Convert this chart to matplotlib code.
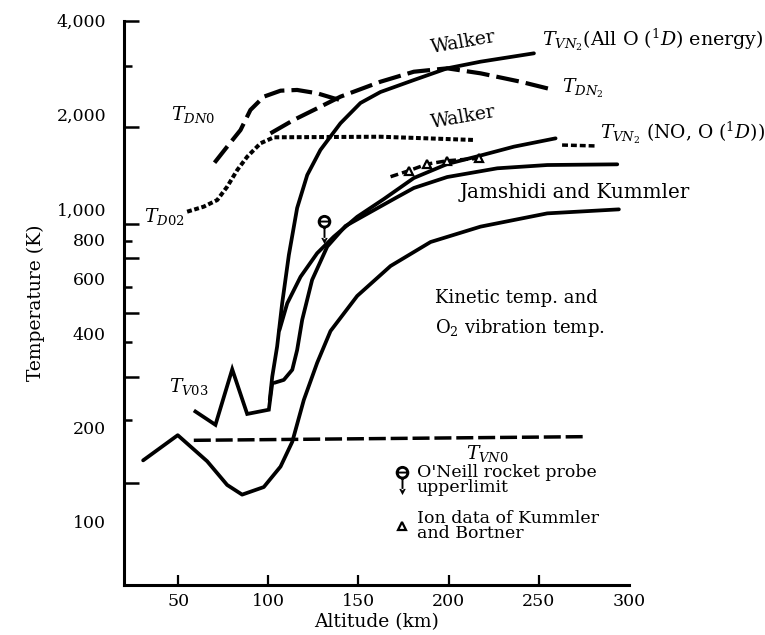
import matplotlib
matplotlib.use("Agg")
import matplotlib.pyplot as plt
from matplotlib.path import Path
from matplotlib.lines import Line2D
from matplotlib.ticker import FixedLocator, NullFormatter, NullLocator
import numpy as np

plt.rcParams['font.family'] = ['DejaVu Serif']
plt.rcParams['mathtext.fontset'] = 'dejavuserif'

# ---------------- data (altitude in km, temperature in K) ----------------
kinetic_alt = [30.6, 49.8, 66.1, 77.2, 85.5, 97.5, 106.8, 113.3, 119.7, 127.1,
               134.5, 149.3, 167.8, 190.0, 217.7, 254.7, 294.4]
kinetic_T = [157, 189, 156, 131, 122, 129, 150, 180, 245, 322,
             407, 527, 657, 784, 878, 968, 997]

tvn0_alt = [58.7, 277.0]
tvn0_T = [182, 187]

tv03_alt = [59.6, 70.7, 80.0, 88.3, 100.3, 102.2]
tv03_T = [225, 204, 307, 221, 228, 277]

tvn2_all_alt = [100.8, 102.2, 104.9, 107.7, 111.4, 116.0, 121.6, 128.9, 140.0,
                151.1, 162.2, 180.7, 199.2, 217.7, 247.3]
tvn2_all_T = [245, 291, 363, 499, 712, 1007, 1284, 1544, 1879,
              2182, 2366, 2584, 2817, 2958, 3146]

jamshidi_alt = [103.4, 108.6, 113.3, 116.0, 118.8, 124.3, 132.7, 142.8, 156.7,
                170.6, 180.7, 199.2, 227.0, 254.7, 293.5]
jamshidi_T = [278, 284, 306, 354, 442, 593, 758, 882, 978,
              1084, 1167, 1265, 1349, 1382, 1389]

tvn2_no_alt = [106.2, 110.5, 117.9, 127.1, 136.3, 149.3, 164.1, 180.7, 199.2,
               216.7, 236.2, 259.3]
tvn2_no_T = [410, 499, 607, 722, 815, 944, 1076, 1256, 1392,
             1477, 1582, 1682]
tvn2_no_tail_alt = [262.9, 282.3]
tvn2_no_tail_T = [1601, 1590]

ion_line_alt = [167.8, 177.9, 188.1, 199.2, 216.7]
ion_line_T = [1268, 1325, 1392, 1426, 1452]
ion_pts_alt = [177.9, 188.1, 199.2, 216.7]
ion_pts_T = [1325, 1392, 1426, 1452]

tdn0_alt = [70.2, 77.2, 84.6, 90.1, 97.5, 106.8, 116.0, 127.1, 136.3, 140.0]
tdn0_T = [1406, 1582, 1788, 2073, 2286, 2389, 2402, 2344, 2259, 2231]

tdn2_alt = [101.2, 114.1, 127.1, 140.0, 154.9, 162.2, 180.7, 199.2, 217.7,
            239.9, 258.3]
tdn2_T = [1745, 1926, 2098, 2286, 2461, 2552, 2747, 2817, 2715, 2552, 2402]

td02_alt = [55.0, 64.2, 71.7, 77.2, 82.8, 88.3, 95.7, 103.1, 162.2, 214.0]
td02_T = [980, 1017, 1068, 1178, 1332, 1469, 1622, 1695, 1702, 1662]

oneill_alt = [130.8]
oneill_T = [860]

x_ticks = [50, 100, 150, 200, 250, 300]
y_label_values = [4000, 2000, 1000, 800, 600, 400, 200, 100]
y_label_texts = ['4,000', '2,000', '1,000', '800', '600', '400', '200', '100']
y_long_ticks = [4000, 1832, 895, 695, 464, 290, 133]
y_short_ticks = [2871, 792, 562, 375, 211]


# ---------------- probe marker (ring with bar, stem and arrow) ----------------
def _ring(cx, cy, r_out, r_in):
    outer = Path.circle((cx, cy), r_out)
    inner = Path.circle((cx, cy), r_in)
    v = inner.vertices[:-1][::-1]
    codes = [Path.MOVETO] + [Path.CURVE4] * (len(v) - 1) + [Path.CLOSEPOLY]
    inner_rev = Path(np.vstack([v, v[:1]]), codes)
    return Path.make_compound_path(outer, inner_rev)


def _rect(x0, y0, x1, y1):
    return Path([(x0, y0), (x1, y0), (x1, y1), (x0, y1), (x0, y0)],
                [Path.MOVETO, Path.LINETO, Path.LINETO, Path.LINETO, Path.CLOSEPOLY])


probe_marker = Path.make_compound_path(
    _ring(0, 0.48, 0.42, 0.24),
    _rect(-0.24, 0.43, 0.24, 0.55),
    _rect(-0.06, -0.6, 0.06, 0.1),
    Path([(-0.2, -0.52), (0.2, -0.52), (0, -0.9), (-0.2, -0.52)],
         [Path.MOVETO, Path.LINETO, Path.LINETO, Path.CLOSEPOLY]),
)

# ---------------- figure ----------------
fig = plt.figure(figsize=(7.65, 6.35), dpi=100)
ax = fig.add_axes([0.1621, 0.0787, 0.6601, 0.8887])
ax.set_yscale('log')
ax.set_xlim(20, 300)
ax.set_ylim(62.7, 4000)

solid = dict(color='black', lw=2.7, solid_capstyle='round', solid_joinstyle='round')
ax.plot(kinetic_alt, kinetic_T, **solid)
ax.plot(tv03_alt, tv03_T, color='black', lw=2.7, solid_joinstyle='miter')
ax.plot(tvn2_all_alt, tvn2_all_T, **solid)
ax.plot(jamshidi_alt, jamshidi_T, **solid)
ax.plot(tvn2_no_alt, tvn2_no_T, **solid)
ax.plot(tvn2_no_tail_alt, tvn2_no_tail_T, color='black', lw=2.5, dashes=(1.7, 0.85))
ax.plot(tvn0_alt, tvn0_T, color='black', lw=2.5, dashes=(4.9, 1.4))
ax.plot(tdn0_alt, tdn0_T, color='black', lw=3.0, dashes=(5.0, 1.7))
ax.plot(tdn2_alt, tdn2_T, color='black', lw=3.0, dashes=(5.5, 1.7))
ax.plot(td02_alt, td02_T, color='black', lw=2.9, dashes=(1.2, 0.65))
ax.plot(ion_line_alt, ion_line_T, color='black', lw=2.5, dashes=(2.3, 1.15))
ax.plot(ion_pts_alt, ion_pts_T, ls='none', marker='^', ms=6, mfc='white',
        mec='black', mew=1.6)
ax.plot(oneill_alt, oneill_T, ls='none', marker=probe_marker, ms=21,
        mfc='black', mec='black', mew=0)

# ---------------- axes styling ----------------
for s in ('top', 'right'):
    ax.spines[s].set_visible(False)
for s in ('left', 'bottom'):
    ax.spines[s].set_linewidth(2.2)

ax.yaxis.set_major_locator(FixedLocator(y_long_ticks))
ax.yaxis.set_minor_locator(FixedLocator(y_short_ticks))
ax.yaxis.set_major_formatter(NullFormatter())
ax.yaxis.set_minor_formatter(NullFormatter())
ax.tick_params(axis='y', which='major', direction='in', length=11, width=1.8)
ax.tick_params(axis='y', which='minor', direction='in', length=6, width=1.8)

ax.set_xticks(x_ticks)
ax.set_xticklabels([str(v) for v in x_ticks], fontsize=12.5)
ax.xaxis.set_minor_locator(NullLocator())
ax.tick_params(axis='x', which='major', direction='in', length=7, width=1.6, pad=6)
ax.xaxis.get_major_ticks()[-1].tick1line.set_visible(False)

sec = ax.secondary_yaxis('left')
sec.set_yticks(y_label_values)
sec.set_yticklabels(y_label_texts, fontsize=12.5)
sec.yaxis.set_minor_locator(NullLocator())
sec.tick_params(axis='y', length=0, pad=13)
sec.spines['left'].set_visible(False)

ax.set_xlabel('Altitude (km)', fontsize=13.5, labelpad=2)
sec.set_ylabel('Temperature (K)', fontsize=13.5, labelpad=8)

# ---------------- curve labels ----------------
fs = 13.5
ax.text(45.8, 1998, r'$T_{DN0}$', fontsize=fs, ha='left', va='center')
ax.text(30.9, 944, r'$T_{D02}$', fontsize=fs, ha='left', va='center')
ax.text(44.8, 270, r'$T_{V03}$', fontsize=fs, ha='left', va='center')
ax.text(209.4, 165, r'$T_{VN0}$', fontsize=fs, ha='left', va='center')
ax.text(208.3, 3419, 'Walker', fontsize=fs, ha='center', va='center',
        rotation=10, rotation_mode='anchor')
ax.text(208.3, 1968, 'Walker', fontsize=fs, ha='center', va='center',
        rotation=10, rotation_mode='anchor')
ax.text(251.9, 3470, r'$T_{VN_2}$(All O ($^1D$) energy)', fontsize=13.7,
        ha='left', va='center')
ax.text(263.0, 2437, r'$T_{DN_2}$', fontsize=fs, ha='left', va='center')
ax.text(284.2, 1750, r'$T_{VN_2}$ (NO, O ($^1D$))', fontsize=13.5,
        ha='left', va='center')
ax.text(269.8, 1125, 'Jamshidi and Kummler', fontsize=14.3, ha='center', va='center')
ax.text(192.7, 519, 'Kinetic temp. and', fontsize=13, ha='left', va='center')
ax.text(192.7, 416, r'O$_2$ vibration temp.', fontsize=13, ha='left', va='center')

# ---------------- legend ----------------
handles = [
    Line2D([], [], ls='none', marker=probe_marker, ms=21, mfc='black',
           mec='black', mew=0),
    Line2D([], [], ls='none', marker='^', ms=6, mfc='white', mec='black', mew=1.6),
]
labels = ["O'Neill rocket probe\nupperlimit", "Ion data of Kummler\nand Bortner"]
leg = ax.legend(handles, labels, loc='upper left', bbox_to_anchor=(0.533, 0.2144),
                frameon=False, fontsize=12.5, handlelength=1.0, handletextpad=0.35,
                labelspacing=0.8, borderpad=0, borderaxespad=0)
for t in leg.get_texts():
    t.set_linespacing(0.85)

fig.savefig('out.png', dpi=100)
